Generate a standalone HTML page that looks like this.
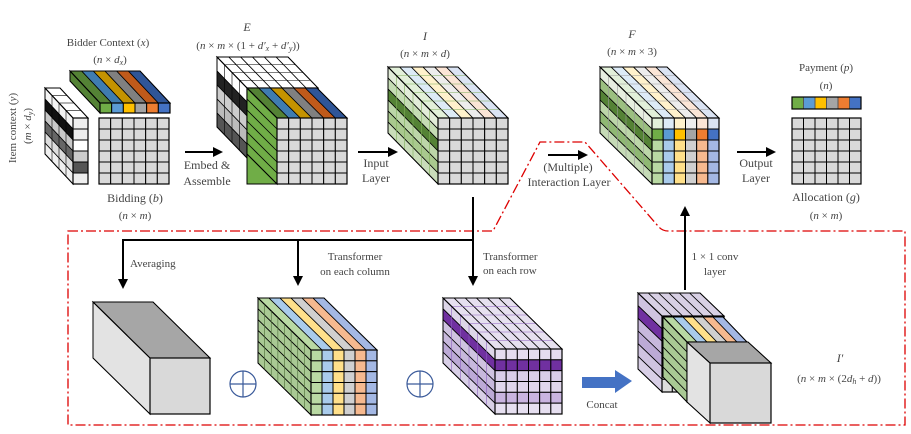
<!DOCTYPE html>
<html><head><meta charset="utf-8"><style>
html,body{margin:0;padding:0;background:#fff;}
svg{display:block;}
text{font-family:"Liberation Serif",serif;fill:#444;}
</style></head><body>
<svg id="s" width="911" height="434" viewBox="0 0 911 434" xmlns="http://www.w3.org/2000/svg">
<g id="shapes"></g>
<path d="M68,231 L493,231 L540,142 L585,142 L658,226 Q662,231 668,231 L905,231 L905,425 L68,425 Z" fill="none" stroke="#d00" stroke-width="1.3" stroke-dasharray="10,3,2,3"/>
<g stroke="#000" stroke-width="2" fill="none">
<line x1="185" y1="152" x2="214" y2="152"/>
<line x1="358" y1="152" x2="389" y2="152"/>
<line x1="548" y1="155" x2="578" y2="155"/>
<line x1="737" y1="152" x2="767" y2="152"/>
<line x1="473" y1="197" x2="473" y2="240"/>
<line x1="122" y1="240" x2="474" y2="240"/>
<line x1="123" y1="240" x2="123" y2="280"/>
<line x1="298" y1="240" x2="298" y2="277"/>
<line x1="473" y1="240" x2="473" y2="277"/>
<line x1="685" y1="290" x2="685" y2="215"/>
</g>
<g fill="#000">
<polygon points="223,152 213,147 213,157"/>
<polygon points="398,152 388,147 388,157"/>
<polygon points="588,155 578,150 578,160"/>
<polygon points="776,152 766,147 766,157"/>
<polygon points="123,289 118,279 128,279"/>
<polygon points="298,286 293,276 303,276"/>
<polygon points="473,286 468,276 478,276"/>
<polygon points="685,206 680,216 690,216"/>
</g>
<g stroke="#3a5a9a" stroke-width="1.2" fill="none">
<circle cx="243" cy="384" r="13"/><line x1="230" y1="384" x2="256" y2="384"/><line x1="243" y1="371" x2="243" y2="397"/>
<circle cx="420" cy="384" r="13"/><line x1="407" y1="384" x2="433" y2="384"/><line x1="420" y1="371" x2="420" y2="397"/>
</g>
<polygon points="582,377 615,377 615,370 632,381 615,393 615,388 582,388" fill="#4472c4"/>
<g font-size="11">
<text x="108" y="46" text-anchor="middle">Bidder Context (<tspan font-style="italic">x</tspan>)</text>
<text x="110" y="63" text-anchor="middle">(<tspan font-style="italic">n</tspan> × <tspan font-style="italic">d</tspan><tspan font-size="8" dy="2" font-style="italic">x</tspan><tspan dy="-2">)</tspan></text>
<text transform="translate(16,128) rotate(-90)" text-anchor="middle">Item context (<tspan font-style="italic">y</tspan>)</text>
<text transform="translate(31,126) rotate(-90)" text-anchor="middle">(<tspan font-style="italic">m</tspan> × <tspan font-style="italic">d</tspan><tspan font-size="8" dy="2" font-style="italic">y</tspan><tspan dy="-2">)</tspan></text>
<text x="135" y="202" text-anchor="middle" font-size="12">Bidding (<tspan font-style="italic">b</tspan>)</text>
<text x="135" y="219" text-anchor="middle">(<tspan font-style="italic">n</tspan> × <tspan font-style="italic">m</tspan>)</text>
<text x="247" y="31" text-anchor="middle" font-style="italic" font-size="12">E</text>
<text x="248" y="49" text-anchor="middle">(<tspan font-style="italic">n</tspan> × <tspan font-style="italic">m</tspan> × (1 + <tspan font-style="italic">d′</tspan><tspan font-size="8" dy="2" font-style="italic">x</tspan><tspan dy="-2"> + </tspan><tspan font-style="italic">d′</tspan><tspan font-size="8" dy="2" font-style="italic">y</tspan><tspan dy="-2">))</tspan></text>
<text x="207" y="169" text-anchor="middle" font-size="12">Embed &amp;</text>
<text x="207" y="185" text-anchor="middle" font-size="12">Assemble</text>
<text x="376" y="167" text-anchor="middle" font-size="12">Input</text>
<text x="376" y="182" text-anchor="middle" font-size="12">Layer</text>
<text x="425" y="40" text-anchor="middle" font-style="italic" font-size="12">I</text>
<text x="425" y="57" text-anchor="middle">(<tspan font-style="italic">n</tspan> × <tspan font-style="italic">m</tspan> × <tspan font-style="italic">d</tspan>)</text>
<text x="568" y="171" text-anchor="middle" font-size="12">(Multiple)</text>
<text x="569" y="186" text-anchor="middle" font-size="12">Interaction Layer</text>
<text x="632" y="38" text-anchor="middle" font-style="italic" font-size="12">F</text>
<text x="632" y="55" text-anchor="middle">(<tspan font-style="italic">n</tspan> × <tspan font-style="italic">m</tspan> × 3)</text>
<text x="756" y="167" text-anchor="middle" font-size="12">Output</text>
<text x="756" y="182" text-anchor="middle" font-size="12">Layer</text>
<text x="826" y="71" text-anchor="middle">Payment (<tspan font-style="italic">p</tspan>)</text>
<text x="826" y="89" text-anchor="middle">(<tspan font-style="italic">n</tspan>)</text>
<text x="826" y="201" text-anchor="middle" font-size="12">Allocation (<tspan font-style="italic">g</tspan>)</text>
<text x="826" y="219" text-anchor="middle">(<tspan font-style="italic">n</tspan> × <tspan font-style="italic">m</tspan>)</text>
<text x="130" y="267">Averaging</text>
<text x="355" y="260" text-anchor="middle">Transformer</text>
<text x="355" y="275" text-anchor="middle">on each column</text>
<text x="483" y="260">Transformer</text>
<text x="483" y="274">on each row</text>
<text x="715" y="260" text-anchor="middle">1 × 1 conv</text>
<text x="715" y="275" text-anchor="middle">layer</text>
<text x="602" y="408" text-anchor="middle">Concat</text>
<text x="840" y="362" text-anchor="middle" font-style="italic" font-size="12">I′</text>
<text x="839" y="382" text-anchor="middle">(<tspan font-style="italic">n</tspan> × <tspan font-style="italic">m</tspan> × (2<tspan font-style="italic">d</tspan><tspan font-size="8" dy="2" font-style="italic">h</tspan><tspan dy="-2"> + </tspan><tspan font-style="italic">d</tspan>))</text>
</g>
</svg>
<script>
var G=document.getElementById('shapes');var NS='http://www.w3.org/2000/svg';
function el(t,a){var e=document.createElementNS(NS,t);for(var k in a)e.setAttribute(k,a[k]);G.appendChild(e);return e;}
function poly(p,f,s,w){return el('polygon',{points:p.map(function(q){return q[0]+','+q[1]}).join(' '),fill:f,stroke:s||'#000','stroke-width':w||0.8});}
function line(a,b,c,d,s,w){el('line',{x1:a,y1:b,x2:c,y2:d,stroke:s||'#000','stroke-width':w||0.8});}
function F(v,i,j){return typeof v==='function'?v(i,j):(Array.isArray(v)?v[i%v.length]:v);}
function cube(o){
 var x=o.x,y=o.y,w=o.w,h=o.h,dx=o.dx,dy=o.dy,c=o.cols||1,r=o.rows||1,cw=w/c,rh=h/r,lc=o.lc||'#000';
 if(o.top){for(var i=0;i<c;i++)poly([[x+i*cw,y],[x+(i+1)*cw,y],[x+(i+1)*cw-dx,y-dy],[x+i*cw-dx,y-dy]],F(o.top,i),lc,0.8);}
 if(o.side){for(var j=0;j<r;j++)poly([[x,y+j*rh],[x,y+(j+1)*rh],[x-dx,y+(j+1)*rh-dy],[x-dx,y+j*rh-dy]],F(o.side,j),lc,0.8);}
 var nd=o.depth||0;for(var k=1;k<nd;k++){var t=k/nd;
  if(o.top)line(x-dx*t,y-dy*t,x+w-dx*t,y-dy*t,o.dlc||lc,0.6);
  if(o.side)line(x-dx*t,y-dy*t,x-dx*t,y+h-dy*t,o.dlc||lc,0.6);}
 if(o.front){for(var i=0;i<c;i++)for(var j=0;j<r;j++)el('rect',{x:x+i*cw,y:y+j*rh,width:cw,height:rh,fill:F(o.front,i,j),stroke:o.flc||'#000','stroke-width':1});}
 if(o.top!==undefined||o.side!==undefined){
 poly([[x,y],[x+w,y],[x+w-dx,y-dy],[x-dx,y-dy]],'none','#000',1);
 poly([[x,y],[x-dx,y-dy],[x-dx,y+h-dy],[x,y+h]],'none','#000',1);}
 el('rect',{x:x,y:y,width:w,height:h,fill:'none',stroke:'#000','stroke-width':1.2});
}
var C=['#70ad47','#5b9bd5','#ffc000','#a5a5a5','#ed7d31','#4472c4'];
var CD=['#548235','#3f7cb0','#c49300','#808080','#c05a1a','#2f5597'];
var CT=['#e2f0d9','#ddebf7','#fff2cc','#ededed','#fbe5d6','#dae3f3'];
var CM=['#b9d9a3','#a9cbeb','#ffe08a','#d0d0d0','#f6b98f','#a4b8e4'];
var GR='#d9d9d9';
cube({x:73,y:118,w:15,h:66,dx:28,dy:30,cols:1,rows:6,top:'#fff',side:['#f4f4f4','#111','#c8c8c8','#666','#ddd','#f0f0f0'],front:function(i,j){return ['#eee','#eee','#fff','#ccc','#555','#eee'][j]},depth:4});
cube({x:100,y:103,w:70,h:10,dx:30,dy:32,cols:6,rows:1,top:CD,side:'#548235',front:C});
cube({x:99,y:118,w:70,h:66,dx:0,dy:0,cols:6,rows:6,front:GR});
// E back block
cube({x:247,y:88,w:71,h:70,dx:30,dy:31,cols:6,rows:5,top:'#fff',side:['#fff','#222','#ccc','#bbb','#555'],front:'#fff',depth:4});
// E green slab
poly([[247,88],[277,118],[277,184],[247,184]],'#70ad47','#000',1);
for(var j=1;j<7;j++){line(247,88+j*11,277,118+j*11,'#000',0.8);}
cube({x:277,y:118,w:70,h:66,dx:30,dy:30,cols:6,rows:6,top:CD,front:GR,depth:1});
cube({x:438,y:118,w:70,h:66,dx:50,dy:51,cols:6,rows:6,top:CT,side:['#e2ecd9','#c5dcb4','#548235','#bcd6a8','#a9c98e','#c9dcb9'],front:GR,depth:6,dlc:'#7fae5a'});
cube({x:652,y:118,w:67,h:66,dx:52,dy:51,cols:6,rows:6,top:CT,side:['#e7eee0','#9bbf80','#548235','#bcd6a8','#8fb873','#c5dab6'],front:function(i,j){return j==0?CT[i]:(j==1?C[i]:CM[i])},depth:6,dlc:'#999'});
cube({x:792,y:97,w:69,h:12,dx:0,dy:0,cols:6,rows:1,front:C,flc:'#555'});
cube({x:792,y:118,w:69,h:66,dx:0,dy:0,cols:6,rows:6,front:GR});
cube({x:150,y:358,w:60,h:56,dx:57,dy:56,top:'#a6a6a6',side:'#e3e3e3',front:'#d9d9d9'});
cube({x:311,y:350,w:66,h:65,dx:53,dy:52,cols:6,rows:6,top:CM,side:'#a9c994',front:function(i,j){return CM[i]},depth:1});
for(var k=1;k<8;k++){var t=k/8;line(311-53*t,350-52*t,311-53*t,415-52*t,'#4a6b35',0.6);}
cube({x:495,y:349,w:67,h:65,dx:52,dy:51,cols:6,rows:6,top:'#e6e0ef',side:['#ddd6e8','#7030a0','#cfc3e0','#c7b8dc','#bcaad6','#d8cfe6'],front:function(i,j){return ['#e4dcef','#7030a0','#d9cde8','#e0d6ec','#c9b4e0','#e6dff0'][j]},depth:6,dlc:'#8b5fbf'});
cube({x:662,y:316,w:62,h:76,dx:24,dy:23,cols:6,rows:6,top:'#d8d0e4',side:['#cfc3e0','#7030a0','#c7b8dc','#bcaad6','#cfc3e0','#d8cfe6'],front:'#ddd',depth:1});
cube({x:687,y:342,w:60,h:60,dx:24,dy:25,cols:6,rows:6,top:CM,side:'#a9c994',front:'#ddd',depth:1});
cube({x:710,y:363,w:61,h:60,dx:23,dy:21,top:'#a6a6a6',side:'#e3e3e3',front:'#d9d9d9'});
</script>
</body></html>
